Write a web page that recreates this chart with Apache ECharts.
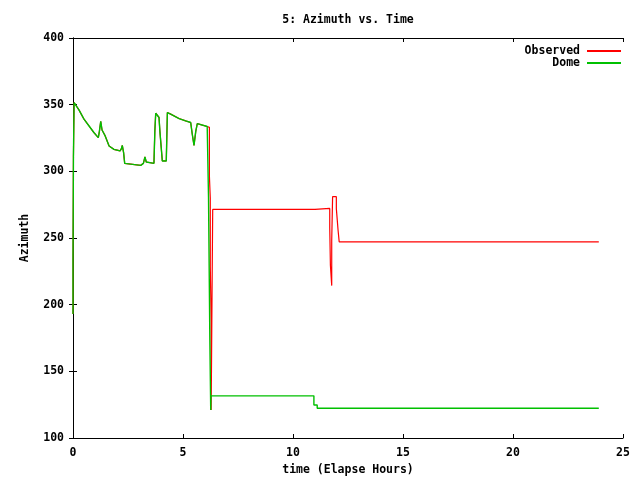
<!DOCTYPE html>
<html>
<head>
<meta charset="utf-8">
<script src="https://cdn.jsdelivr.net/npm/echarts@6/dist/echarts.min.js"></script>
<style>html,body{margin:0;padding:0;background:#fff}#c{width:640px;height:480px}</style>
</head>
<body>
<div id="c"></div>
<script>
// Shared early portion (both series nearly identical up to ~6.1 h)
var earlyTime = [0.0, 0.0, 0.02, 0.02, 0.05, 0.05, 0.27, 0.5, 0.73, 0.95, 1.15, 1.2, 1.26, 1.32, 1.45, 1.64, 1.86, 2.14, 2.2, 2.24, 2.3, 2.35, 3.08, 3.12, 3.2, 3.27, 3.33, 3.38, 3.68, 3.72, 3.76, 3.91, 3.95, 4.06, 4.24, 4.29, 4.44, 4.82, 5.12, 5.35, 5.42, 5.5, 5.58, 5.65, 6.1, 6.14];
var earlyAz   = [193, 234, 234, 311, 311, 351.6, 346.1, 339.1, 334, 329.1, 325.3, 330, 337.4, 331, 327, 319, 316.5, 315.3, 317, 319.5, 314, 306, 304.5, 304, 306, 310.8, 307, 306, 306, 330, 343.6, 340.4, 330, 307.8, 307.8, 344.1, 342.9, 339.6, 337.8, 336.6, 328, 319.5, 330, 335.8, 333.6, 333];

var obsLateTime = [6.2, 6.2, 6.24, 6.24, 6.28, 6.28, 6.33, 6.33, 6.35, 6.35, 11.0, 11.0, 11.67, 11.67, 11.7, 11.7, 11.76, 11.76, 11.8, 11.8, 11.97, 11.97, 12.05, 12.05, 12.1, 12.1, 23.9];
var obsLateAz   = [333, 296.5, 280, 228.8, 187.4, 121, 229.5, 230, 230, 271.4, 271.4, 272.2, 272.2, 257.7, 257.7, 229.5, 214.3, 248, 248, 281, 281, 272, 272, 255.6, 255.6, 247.1, 247.1];

var domeLateTime = [6.16, 6.16, 6.22, 6.22, 6.26, 6.26, 6.27, 6.27, 10.95, 10.95, 11.1, 11.1, 23.9];
var domeLateAz   = [333, 280.2, 280.2, 173.7, 173.7, 121, 121, 131.6, 131.6, 124.8, 124.8, 122.3, 122.3];

var seriesNames = ['Observed', 'Dome'];
var xTicks = {min: 0, max: 25, interval: 5};
var yTicks = {min: 100, max: 400, interval: 50};

function pairs(t, v) { var out = []; for (var i = 0; i < t.length; i++) out.push([t[i], v[i]]); return out; }
var observed = pairs(earlyTime, earlyAz).concat(pairs(obsLateTime, obsLateAz));
var dome = pairs(earlyTime, earlyAz).concat(pairs(domeLateTime, domeLateAz));

var font = 'DejaVu Sans Mono';
var txt = {color: '#000', fontFamily: font, fontSize: 11.5, fontWeight: 'bold'};

var chart = echarts.init(document.getElementById('c'), null, {renderer: 'canvas'});
var axisCommon = {
  axisLine: {show: true, lineStyle: {color: '#000', width: 1}},
  axisTick: {show: true, inside: true, length: 4, lineStyle: {color: '#000'}},
  splitLine: {show: false}
};
chart.setOption({
  animation: false,
  backgroundColor: '#fff',
  title: {text: '5: Azimuth vs. Time', left: 343, top: 9, textAlign: 'center',
    textStyle: Object.assign({}, txt)},
  legend: {
    orient: 'vertical', right: 14, top: 40, align: 'right',
    itemWidth: 34, itemHeight: 2, itemGap: 0,
    icon: 'rect',
    textStyle: Object.assign({}, txt, {padding: [0, 2, 0, 0]}),
    data: seriesNames
  },
  grid: {left: 73, right: 17, top: 38, bottom: 42, containLabel: false, outerBoundsMode: 'none'},
  xAxis: [
    Object.assign({type: 'value', position: 'bottom', min: xTicks.min, max: xTicks.max, interval: xTicks.interval,
      name: 'time (Elapse Hours)', nameLocation: 'middle', nameGap: 25, nameTextStyle: Object.assign({}, txt),
      axisLabel: Object.assign({margin: 9}, txt)}, axisCommon),
    Object.assign({type: 'value', position: 'top', min: xTicks.min, max: xTicks.max, interval: xTicks.interval,
      axisLabel: {show: false}}, axisCommon)
  ],
  yAxis: [
    Object.assign({type: 'value', position: 'left', min: yTicks.min, max: yTicks.max, interval: yTicks.interval,
      name: 'Azimuth', nameLocation: 'middle', nameRotate: 90, nameGap: 42, nameTextStyle: Object.assign({}, txt),
      axisLabel: Object.assign({margin: 9}, txt)}, axisCommon),
    Object.assign({type: 'value', position: 'right', min: yTicks.min, max: yTicks.max, interval: yTicks.interval,
      axisLabel: {show: false}}, axisCommon)
  ],
  series: [
    {name: seriesNames[0], type: 'line', data: observed, symbol: 'none', color: '#ff0000',
      lineStyle: {width: 1.2, color: '#ff0000'}, itemStyle: {color: '#ff0000'}},
    {name: seriesNames[1], type: 'line', data: dome, symbol: 'none', color: '#00c000',
      lineStyle: {width: 1.4, color: '#00c000'}, itemStyle: {color: '#00c000'}}
  ]
});
</script>
</body>
</html>
